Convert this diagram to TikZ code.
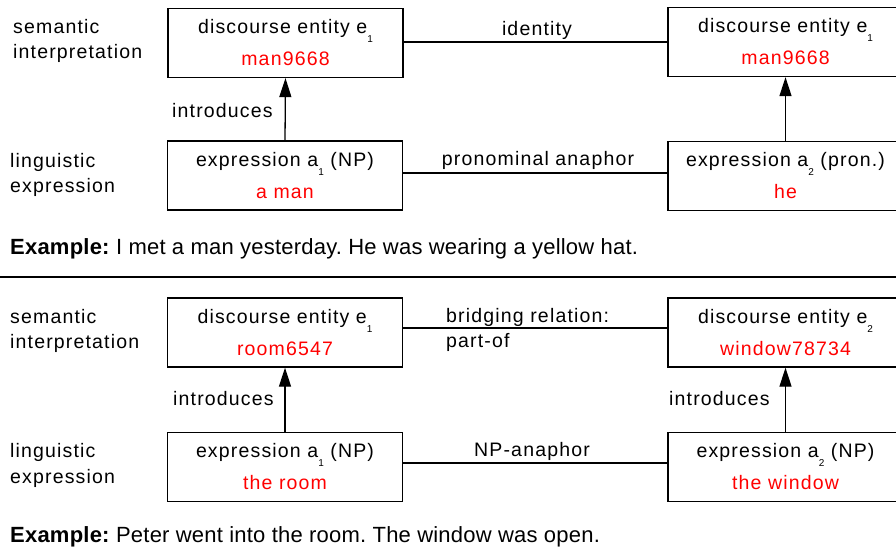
\documentclass[tikz,border=0pt]{standalone}
\usepackage{fontspec}
\setmainfont{Liberation Sans}[LetterSpace=6]
\newfontfamily\exfont{Liberation Sans}[LetterSpace=1]
\usetikzlibrary{arrows.meta}
\newcommand\sbx[1]{\raisebox{-9pt}{\fontsize{10}{10}\selectfont #1}}
\begin{document}
\begin{tikzpicture}[x=1pt,y=-1pt,
  every node/.style={inner sep=0pt, font=\fontsize{19.5}{32}\selectfont},
  box/.style={draw, line width=1.3pt, minimum width=235pt, minimum height=69pt, align=center},
  rel/.style={line width=1.2pt},
  arr/.style={line width=1.3pt, -{Triangle[length=19pt,width=12pt]}},
  lbl/.style={anchor=base west},
  exline/.style={anchor=base west, font=\exfont\fontsize{22}{26}\selectfont\frenchspacing}]
\useasboundingbox (0,0) rectangle (896,550);
\clip (0,0) rectangle (896,550);
% ---------- top ----------
\node[lbl] (s1a) at (13,33) {semantic};
\node[lbl] (s1b) at (13,58) {interpretation};
\node[lbl] (l1a) at (10,167) {linguistic};
\node[lbl] (l1b) at (10,192) {expression};
\node[box] (A) at (285.5,43) {discourse entity e\sbx{1}\\\textcolor{red}{man9668}};
\node[box] (B) at (285,175.5) {expression a\sbx{1} (NP)\\\textcolor{red}{a man}};
\node[box] (C) at (785.5,42) {discourse entity e\sbx{1}\\\textcolor{red}{man9668}};
\node[box] (D) at (785.5,176) {expression a\sbx{2} (pron.)\\\textcolor{red}{he}};
\draw[arr] (B.north) -- (A.south);
\draw[arr] (D.north) -- (C.south);
\node[lbl] (i1) at (172,117) {introduces};
\draw[rel] (A.east |- 0,42) -- (C.west |- 0,42);
\node[anchor=base] (id) at (537,35) {identity};
\draw[rel] (B.east |- 0,173) -- (D.west |- 0,173);
\node[anchor=base] (pa) at (538,165) {pronominal anaphor};
\node[exline] (ex1) at (10,254) {\textbf{Example:} I met a man yesterday. He was wearing a yellow hat.};
% separator
\coordinate (sepL) at (0,277);
\coordinate (sepR) at (896,277);
\draw[line width=2pt] (sepL) -- (sepR);
% ---------- bottom ----------
\node[lbl] (s2a) at (10,323) {semantic};
\node[lbl] (s2b) at (10,348) {interpretation};
\node[lbl] (l2a) at (10,457) {linguistic};
\node[lbl] (l2b) at (10,483) {expression};
\node[box] (E) at (285,332.5) {discourse entity e\sbx{1}\\\textcolor{red}{room6547}};
\node[box] (F) at (285,467) {expression a\sbx{1} (NP)\\\textcolor{red}{the room}};
\node[box] (G) at (785.5,332.5) {discourse entity e\sbx{2}\\\textcolor{red}{window78734}};
\node[box] (H) at (785.5,467) {expression a\sbx{2} (NP)\\\textcolor{red}{the window}};
\draw[arr] (F.north) -- (E.south);
\draw[arr] (H.north) -- (G.south);
\node[lbl] (i2) at (173,405) {introduces};
\node[lbl] (i3) at (669,405) {introduces};
\draw[rel] (E.east |- 0,328) -- (G.west |- 0,328);
\node[lbl] (br1) at (446,322) {bridging relation:};
\node[lbl] (br2) at (446,347) {part-of};
\draw[rel] (F.east |- 0,463) -- (H.west |- 0,463);
\node[anchor=base] (np) at (532,456) {NP-anaphor};
\node[exline] (ex2) at (10,542) {\textbf{Example:} Peter went into the room. The window was open.};
\end{tikzpicture}
\end{document}
